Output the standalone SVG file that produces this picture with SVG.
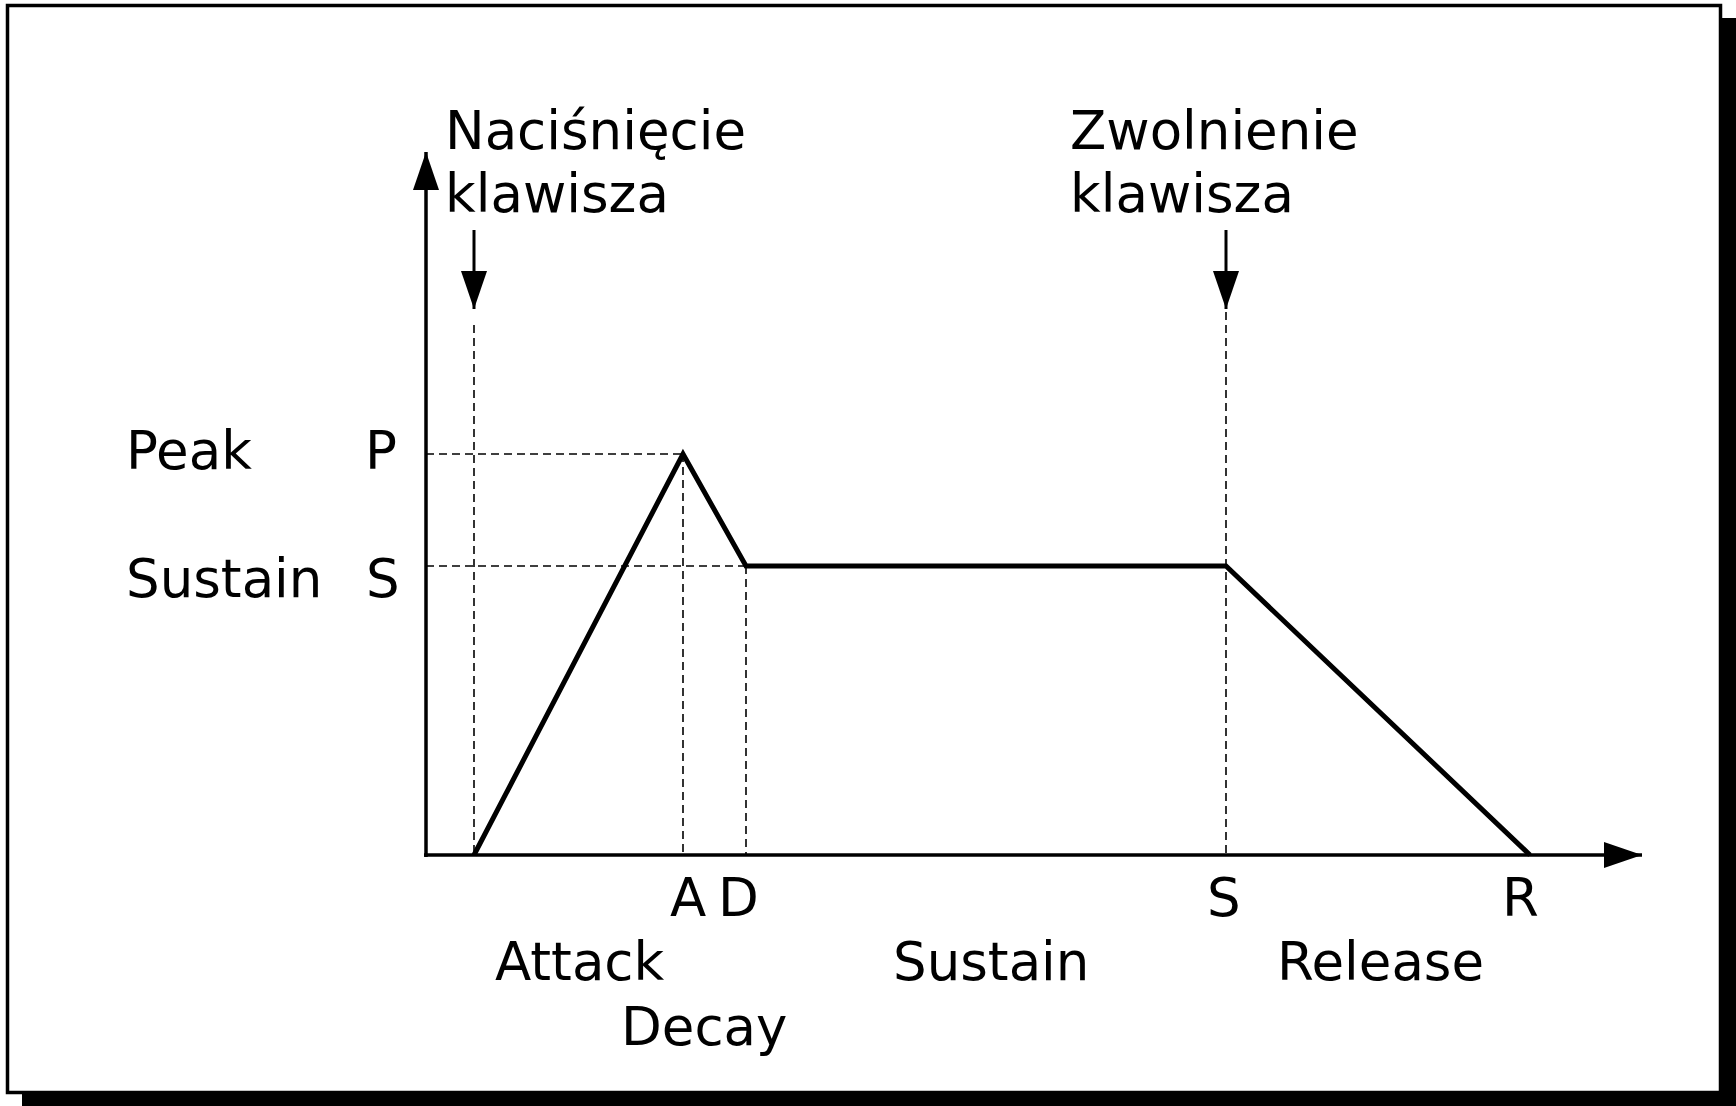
<svg xmlns="http://www.w3.org/2000/svg" width="1736" height="1106" viewBox="0 0 1736 1106">
<style>
text{font-family:"DejaVu Sans","Liberation Sans",sans-serif;font-size:53px;fill:#000}
.axis{stroke:#000;stroke-width:3.5;fill:none}
.curve{stroke:#000;stroke-width:5;fill:none;stroke-linejoin:miter}
.dash{stroke:#000;stroke-width:1.6;stroke-dasharray:8 5;fill:none}
.ptr{stroke:#000;stroke-width:3;fill:none}
</style>
<defs>
<marker id="ah" viewBox="0 0 38 26" refX="38" refY="13" markerWidth="38" markerHeight="26" markerUnits="userSpaceOnUse" orient="auto">
<path d="M0,0 L38,13 L0,26 Z" fill="#000"/>
</marker>
</defs>
<g id="frame">
<rect x="22" y="18" width="1714" height="1088" fill="#000"/>
<rect x="7.5" y="5.5" width="1713" height="1087" fill="#fff" stroke="#000" stroke-width="3.5"/>
</g>
<g id="connectors">
<line class="dash" x1="426" y1="454" x2="683" y2="454"/>
<line class="dash" x1="426" y1="566" x2="746" y2="566"/>
<line class="dash" x1="474" y1="325" x2="474" y2="855"/>
<line class="dash" x1="683" y1="454" x2="683" y2="855"/>
<line class="dash" x1="746" y1="566" x2="746" y2="855"/>
<line class="dash" x1="1226" y1="312" x2="1226" y2="855"/>
<line class="axis" x1="426" y1="857" x2="426" y2="152" marker-end="url(#ah)"/>
<line class="axis" x1="424" y1="855" x2="1642" y2="855" marker-end="url(#ah)"/>
<line class="ptr" x1="474" y1="230" x2="474" y2="309" marker-end="url(#ah)"/>
<line class="ptr" x1="1226" y1="230" x2="1226" y2="309" marker-end="url(#ah)"/>
<polyline class="curve" points="474,855 683,454 746,566 1226,566 1530,855"/>
</g>
<g id="labels">
<text x="445" y="149">Naciśnięcie</text>
<text x="445" y="212">klawisza</text>
<text x="1070" y="149">Zwolnienie</text>
<text x="1070" y="212">klawisza</text>
<text x="126" y="469">Peak</text>
<text x="365" y="469">P</text>
<text x="126" y="597">Sustain</text>
<text x="366" y="597">S</text>
<text x="670" y="916">A</text>
<text x="718" y="916">D</text>
<text x="1207" y="916">S</text>
<text x="1502" y="916">R</text>
<text x="495" y="980">Attack</text>
<text x="893" y="980">Sustain</text>
<text x="1277" y="980">Release</text>
<text x="621" y="1045">Decay</text>
</g>
</svg>
